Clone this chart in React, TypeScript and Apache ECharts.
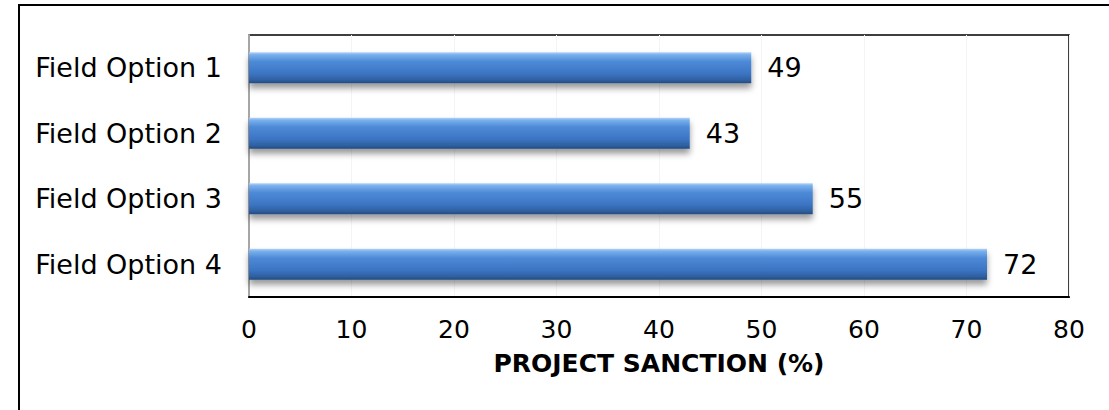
import React, { useEffect, useRef } from "react";
import * as echarts from "echarts";

const categories = ["Field Option 1", "Field Option 2", "Field Option 3", "Field Option 4"];
const values = [49, 43, 55, 72];
const axisTitle = "PROJECT SANCTION (%)";
const xMin = 0;
const xMax = 80;
const xStep = 10;

const FONT = "Verdana, 'DejaVu Sans', sans-serif";

export default function App() {
  const ref = useRef<HTMLDivElement>(null);
  useEffect(() => {
    if (!ref.current) return;
    const chart = echarts.init(ref.current, null, { renderer: "svg" });
    chart.setOption({
      animation: false,
      backgroundColor: "#ffffff",
      graphic: [
        {
          type: "rect",
          shape: { x: 19, y: 5, width: 1200, height: 500 },
          style: { fill: "none", stroke: "#000", lineWidth: 2 },
          silent: true,
          z: -1,
        },
      ],
      grid: {
        left: 249,
        top: 35,
        right: 40,
        bottom: 113,
        show: true,
        borderColor: "#000",
        borderWidth: 1.5,
        backgroundColor: "transparent",
        containLabel: false,
      },
      xAxis: {
        type: "value",
        min: xMin,
        max: xMax,
        interval: xStep,
        name: axisTitle,
        nameLocation: "middle",
        nameGap: 54,
        nameTextStyle: { fontFamily: FONT, fontSize: 25, fontWeight: "bold", color: "#000" },
        axisLine: { show: true, lineStyle: { color: "#000", width: 2 } },
        axisTick: { show: false },
        splitLine: { show: true, lineStyle: { color: "#f4f4f4", width: 1 } },
        axisLabel: { fontFamily: FONT, fontSize: 25, color: "#000", margin: 20 },
      },
      yAxis: {
        type: "category",
        data: categories,
        inverse: true,
        axisLine: { show: true, lineStyle: { color: "#a6a6a6", width: 2 } },
        axisTick: { show: false },
        splitLine: { show: false },
        axisLabel: { fontFamily: FONT, fontSize: 27, color: "#000", margin: 27 },
      },
      series: [
        {
          type: "bar",
          data: values,
          barWidth: 31,
          itemStyle: {
            color: new echarts.graphic.LinearGradient(0, 0, 0, 1, [
              { offset: 0, color: "#b3d3f7" },
              { offset: 0.08, color: "#7ab0ec" },
              { offset: 0.3, color: "#4d8ad7" },
              { offset: 0.7, color: "#3b74c2" },
              { offset: 0.9, color: "#2f5f9f" },
              { offset: 1, color: "#234a80" },
            ]),
            shadowColor: "rgba(0,0,0,0.4)",
            shadowBlur: 6,
            shadowOffsetY: 5,
          },
          label: {
            show: true,
            position: "right",
            distance: 16,
            fontFamily: FONT,
            fontSize: 27,
            color: "#000",
          },
        },
      ],
    });
    return () => chart.dispose();
  }, []);
  return (
    <div
      ref={ref}
      style={{ position: "fixed", left: 0, top: 0, width: 1109, height: 410 }}
    />
  );
}
